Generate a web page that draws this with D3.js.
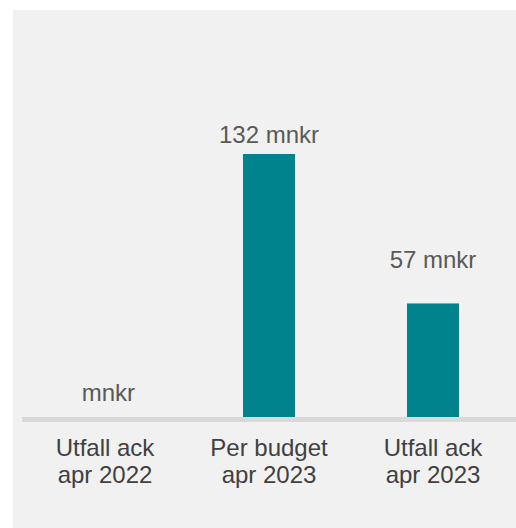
<!DOCTYPE html>
<html>
<head>
<meta charset="utf-8">
<script src="https://cdn.jsdelivr.net/npm/d3@7"></script>
<style>
  html, body { margin: 0; padding: 0; background: #ffffff; }
  svg { display: block; }
  text { font-family: "Liberation Sans", Arial, sans-serif; }
</style>
</head>
<body>
<svg id="chart" width="516" height="528"></svg>
<script>
// ---- data ----
const categoriesLine1 = ["Utfall ack", "Per budget", "Utfall ack"];
const categoriesLine2 = ["apr 2022", "apr 2023", "apr 2023"];
const values = [null, 132, 57];
const valueLabels = [" mnkr", "132 mnkr", "57 mnkr"];

// ---- styling ----
const labelGap = [16, 11, 35];
const W = 516, H = 528;
const svg = d3.select("#chart");

svg.append("rect")
  .attr("x", 13).attr("y", 10)
  .attr("width", 503).attr("height", 518)
  .attr("fill", "#f1f1f1");

const idx = d3.range(categoriesLine1.length);
const x = d3.scaleBand().domain(idx).range([23, 515]).paddingInner(0.683).paddingOuter(0.3415);
const y = d3.scaleLinear().domain([0, 132]).range([417, 154]);

// bars
svg.selectAll("rect.bar")
  .data(idx.filter(i => values[i] != null))
  .join("rect")
  .attr("class", "bar")
  .attr("x", i => x(i))
  .attr("width", x.bandwidth())
  .attr("y", i => y(values[i]))
  .attr("height", i => y(0) - y(values[i]))
  .attr("fill", "#00838d");

// baseline
svg.append("rect")
  .attr("x", 22).attr("y", y(0))
  .attr("width", 494).attr("height", 5)
  .attr("fill", "#d9d9d9");

// value labels
svg.selectAll("text.val")
  .data(idx)
  .join("text")
  .attr("class", "val")
  .attr("x", i => x(i) + x.bandwidth() / 2)
  .attr("y", i => y(values[i] || 0) - labelGap[i])
  .attr("text-anchor", "middle")
  .style("white-space", "pre")
  .attr("font-size", 24)
  .attr("fill", "#595959")
  .text(i => valueLabels[i]);

// category labels
const cat = svg.selectAll("text.cat")
  .data(idx)
  .join("text")
  .attr("class", "cat")
  .attr("text-anchor", "middle")
  .attr("font-size", 24)
  .attr("fill", "#404040");
cat.append("tspan")
  .attr("x", i => x(i) + x.bandwidth() / 2)
  .attr("y", 456)
  .text(i => categoriesLine1[i]);
cat.append("tspan")
  .attr("x", i => x(i) + x.bandwidth() / 2)
  .attr("y", 483)
  .text(i => categoriesLine2[i]);
</script>
</body>
</html>
